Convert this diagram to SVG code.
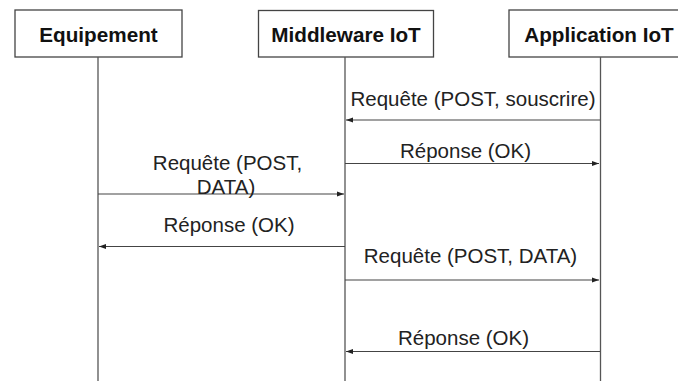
<svg xmlns="http://www.w3.org/2000/svg" width="678" height="381" viewBox="0 0 678 381">
<style>
.box{fill:#fff;stroke:#444;stroke-width:1.3}
.head{font-family:"Liberation Sans",Arial,sans-serif;font-weight:bold;font-size:20.7px;fill:#111;text-anchor:middle}
.life{stroke:#555;stroke-width:1.3;fill:none}
.msg{stroke:#444;stroke-width:1.1;fill:none;marker-end:url(#ah)}
.lbl{font-family:"Liberation Sans",Arial,sans-serif;font-size:20.5px;fill:#222;text-anchor:middle}
</style>
<defs>
<marker id="ah" markerUnits="userSpaceOnUse" markerWidth="8" markerHeight="6" refX="7" refY="3" orient="auto">
<path d="M0,0.5 L7,3 L0,5.5 Z" fill="#222"/>
</marker>
</defs>
<rect width="678" height="381" fill="#fff"/>
<g id="equipement">
<rect class="box" x="15" y="10" width="167" height="47"/>
<text class="head" x="98.5" y="41.5">Equipement</text>
<line class="life" x1="98" y1="57" x2="98" y2="381"/>
</g>
<g id="middleware">
<rect class="box" x="258.5" y="10.5" width="175" height="46.5"/>
<text class="head" x="346" y="41.5">Middleware IoT</text>
<line class="life" x1="345" y1="57" x2="345" y2="381"/>
</g>
<g id="application">
<rect class="box" x="509" y="10" width="185" height="47"/>
<text class="head" x="599" y="41.5">Application IoT</text>
<line class="life" x1="600.5" y1="57" x2="600.5" y2="381"/>
</g>
<g id="connectors">
<line class="msg" x1="600" y1="120" x2="346" y2="120"/>
<line class="msg" x1="345" y1="163.5" x2="599" y2="163.5"/>
<line class="msg" x1="98" y1="194" x2="344" y2="194"/>
<line class="msg" x1="345" y1="246.5" x2="99" y2="246.5"/>
<line class="msg" x1="345" y1="280" x2="599" y2="280"/>
<line class="msg" x1="600" y1="351.5" x2="346" y2="351.5"/>
</g>
<g id="labels">
<text class="lbl" x="473" y="106">Requête (POST, souscrire)</text>
<text class="lbl" x="465.5" y="158">Réponse (OK)</text>
<text class="lbl" x="227.5" y="170"><tspan x="227.5" y="170">Requête (POST,</tspan><tspan x="226" y="193.5">DATA)</tspan></text>
<text class="lbl" x="229" y="232">Réponse (OK)</text>
<text class="lbl" x="470.5" y="263">Requête (POST, DATA)</text>
<text class="lbl" x="463.5" y="345">Réponse (OK)</text>
</g>
</svg>
